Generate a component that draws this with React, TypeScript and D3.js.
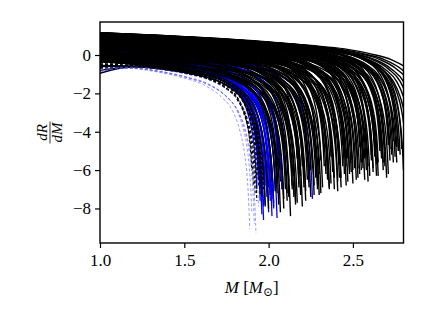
import React, { useEffect, useRef } from "react";
import * as d3 from "d3";

const WIDTH = 425;
const HEIGHT = 319;
const margin = { top: 22, right: 21.5, bottom: 76, left: 100 };

const xDomain = [1.0, 2.8];
const yDomain = [-9.8, 1.72];
const xTicks = [1.0, 1.5, 2.0, 2.5];
const yTicks = [0, -2, -4, -6, -8];

// shape of the plunge: mass before the last point (delta)
// and the share of the total drop reached there (share)
const profileDelta = [1.0, 0.75, 0.55, 0.4, 0.27, 0.17, 0.1, 0.06, 0.03, 0.015, 0.005, 0];
const profileShare = [0, 0.026, 0.05, 0.085, 0.13, 0.2, 0.29, 0.4, 0.55, 0.69, 0.86, 1];

// black solid curves: value at M=1, level before the plunge, last mass, last value
const blackStart = [
  -0.95, -0.55, -0.8, -0.35, -0.6, -0.25, -0.45, -0.15, -0.4, -0.2,
  -0.1, -0.3, 0.0, -0.2, 0.05, -0.15, 0.1, -0.05, 0.15, -0.25,
  0.2, -0.1, 0.3, 0.0, 0.35, -0.05, 0.25, 0.1, 0.4, 0.05,
  0.15, 0.45, 0.2, 0.35, 0.5, 0.25, 0.55, 0.3, 0.45, 0.6,
  0.4, 0.65, 0.5, 0.7, 0.35, 0.6, 0.75, 0.45, 0.8, 0.55,
  0.7, 0.85, 0.6, 0.9, 0.75, 0.95, 0.65, 0.85, 1.0, 0.8,
  0.9, 1.0, 0.8, 1.05, 0.85, 0.95, 1.1, 0.9, 1.0, 0.85,
  1.0, 0.9, 1.08, 0.95, 1.12, 1.0, 0.92, 1.1, 1.05, 0.98,
  1.1, 1.02, 1.12, 1.06, 1.14, 1.08, 1.12, 1.1, 1.15, 1.13,
  1.14, 1.15, 1.13, 1.15, 1.16, 1.15, 1.16, -0.05, 0.5, 0.75,
  -0.2, 0.15, 0.55, 0.85, -0.35, 0.05, 0.4, 0.7, 0.25, 0.6,
  0.0, 0.3, 0.65, 0.2, 0.5, 0.95, -0.3, -0.15, 0.35, 0.8,
  -0.05, 0.1, -0.2, 0.2, 0.05, 0.3, -0.1, 0.35, 0.15, 0.4,
  0.3, 0.5, 0.25, 0.55, 0.45, 0.7, 0.5, 0.75, 0.6, 0.8,
  0.7, 0.9, 0.75, 0.95, 0.85, 1.05, 0.9, 1.0, 1.08, 1.1,
  -0.35, -0.15, 0.0, 0.1, 0.2, 0.35, 0.4, 0.55, 0.65, 0.7,
];
const blackLevel = [
  -0.45, -0.42, -0.45, -0.3, -0.4, -0.22, -0.35, -0.15, -0.3, -0.18,
  -0.13, -0.33, -0.04, -0.23, 0.01, -0.19, 0.06, -0.09, 0.1, -0.28,
  0.14, -0.16, 0.24, -0.06, 0.29, -0.11, 0.19, 0.04, 0.33, -0.01,
  0.06, 0.36, 0.11, 0.26, 0.41, 0.16, 0.46, 0.21, 0.36, 0.51,
  0.27, 0.52, 0.37, 0.57, 0.22, 0.47, 0.62, 0.32, 0.67, 0.42,
  0.53, 0.68, 0.43, 0.73, 0.58, 0.78, 0.48, 0.68, 0.83, 0.63,
  0.7, 0.8, 0.6, 0.85, 0.65, 0.75, 0.9, 0.7, 0.8, 0.65,
  0.72, 0.62, 0.8, 0.66, 0.82, 0.7, 0.62, 0.8, 0.74, 0.68,
  0.74, 0.68, 0.78, 0.7, 0.8, 0.72, 0.76, 0.74, 0.8, 0.76,
  0.72, 0.7, 0.72, 0.7, 0.7, 0.68, 0.68, -0.14, 0.33, 0.5,
  -0.26, 0.02, 0.35, 0.5, -0.38, -0.05, 0.23, 0.42, 0.12, 0.4,
  -0.06, 0.13, 0.35, 0.07, 0.3, 0.55, -0.33, -0.21, 0.18, 0.5,
  -0.08, 0.06, -0.24, 0.15, 0.0, 0.24, -0.16, 0.27, 0.06, 0.31,
  0.2, 0.39, 0.12, 0.42, 0.3, 0.54, 0.33, 0.58, 0.42, 0.6,
  0.5, 0.68, 0.52, 0.7, 0.58, 0.75, 0.62, 0.7, 0.76, 0.74,
  -0.36, -0.2, -0.07, 0.01, 0.08, 0.2, 0.23, 0.36, 0.44, 0.47,
];
const blackEndM = [
  1.95, 1.96, 1.97, 1.98, 1.99, 2.0, 2.01, 2.02, 2.03, 2.04,
  2.05, 2.06, 2.06, 2.07, 2.08, 2.09, 2.1, 2.11, 2.12, 2.13,
  2.13, 2.14, 2.15, 2.16, 2.17, 2.18, 2.19, 2.2, 2.2, 2.21,
  2.22, 2.23, 2.24, 2.25, 2.26, 2.27, 2.28, 2.29, 2.3, 2.31,
  2.32, 2.33, 2.34, 2.35, 2.36, 2.37, 2.38, 2.39, 2.4, 2.41,
  2.42, 2.43, 2.44, 2.45, 2.46, 2.47, 2.48, 2.49, 2.5, 2.51,
  2.52, 2.53, 2.54, 2.55, 2.56, 2.57, 2.58, 2.59, 2.6, 2.61,
  2.62, 2.63, 2.64, 2.65, 2.66, 2.67, 2.68, 2.69, 2.7, 2.71,
  2.72, 2.73, 2.74, 2.75, 2.76, 2.77, 2.78, 2.79, 2.8, 2.82,
  2.84, 2.86, 2.88, 2.9, 2.93, 2.96, 3.0, 2.25, 2.45, 2.65,
  2.15, 2.35, 2.55, 2.72, 2.08, 2.28, 2.48, 2.68, 2.38, 2.58,
  2.18, 2.43, 2.63, 2.33, 2.53, 2.76, 2.11, 2.21, 2.46, 2.66,
  2.05, 2.07, 2.09, 2.12, 2.14, 2.16, 2.19, 2.22, 2.24, 2.27,
  2.29, 2.31, 2.34, 2.36, 2.39, 2.41, 2.44, 2.47, 2.49, 2.52,
  2.54, 2.57, 2.59, 2.62, 2.64, 2.67, 2.69, 2.71, 2.74, 2.77,
  2.03, 2.1, 2.17, 2.23, 2.3, 2.37, 2.42, 2.5, 2.56, 2.61,
];
const blackEndY = [
  -6.8, -7.4, -6.5, -7.9, -7.0, -8.0, -7.3, -6.6, -7.7, -7.1,
  -6.2, -7.8, -5.9, -8.2, -6.8, -7.5, -6.0, -7.2, -6.6, -8.4,
  -5.6, -7.0, -6.3, -7.6, -5.4, -6.9, -7.3, -5.8, -7.9, -6.4,
  -7.1, -5.2, -6.6, -7.4, -5.9, -6.8, -4.9, -7.0, -6.2, -5.5,
  -6.9, -5.8, -4.8, -6.5, -7.0, -5.3, -6.1, -7.0, -5.0, -6.6,
  -5.7, -6.9, -4.7, -6.2, -6.8, -5.4, -6.0, -4.6, -6.7, -5.9,
  -5.1, -6.4, -4.8, -6.0, -5.5, -6.5, -4.7, -5.8, -6.3, -5.2,
  -6.1, -4.9, -5.7, -6.3, -4.6, -5.4, -6.0, -5.0, -6.4, -4.7,
  -5.5, -5.2, -4.5, -5.3, -4.8, -5.0, -5.2, -4.9, -6.0, -6.0,
  -6.5, -6.5, -6.5, -6.5, -6.5, -6.5, -6.5, -6.0, -5.2, -5.6,
  -7.4, -6.0, -5.6, -4.9, -7.0, -6.4, -6.2, -5.6, -5.5, -6.0,
  -6.7, -6.4, -5.3, -5.0, -5.9, -5.6, -7.6, -6.9, -5.8, -5.0,
  -7.2, -6.6, -8.0, -7.4, -6.8, -7.8, -6.3, -7.6, -6.9, -7.3,
  -6.7, -7.2, -6.2, -6.9, -6.4, -7.1, -5.8, -6.6, -6.1, -6.5,
  -6.2, -5.4, -6.6, -5.9, -6.3, -5.1, -5.8, -6.2, -5.6, -5.0,
  -7.9, -7.0, -7.7, -6.5, -7.3, -6.7, -6.4, -6.0, -5.9, -5.5,
];

// blue solid curves
const blueStart = [-0.15, -0.12, -0.1, -0.08, -0.18, -0.05, -0.14, -0.02, -0.1, 0.0, -0.16, 0.02, -0.06, 0.0, 0.03, -0.04, 0.05, 0.02, 0.06, 0.15, -0.12, -0.07];
const blueLevel = [-0.08, -0.06, -0.04, -0.02, -0.1, 0.0, -0.08, 0.03, -0.04, 0.05, -0.1, 0.07, 0.0, 0.05, 0.08, 0.02, 0.1, 0.07, 0.1, 0.2, -0.06, -0.02];
const blueEndM = [1.93, 1.94, 1.95, 1.96, 1.96, 1.97, 1.98, 1.98, 1.99, 2.0, 2.0, 2.01, 2.02, 2.03, 2.04, 2.05, 2.06, 2.08, 2.1, 2.26, 1.97, 2.02];
const blueEndY = [-7.0, -6.5, -7.6, -7.2, -8.3, -8.6, -6.8, -7.8, -7.4, -8.2, -6.9, -7.6, -7.5, -8.0, -7.1, -8.5, -6.4, -7.0, -6.0, -7.5, -7.9, -8.4];

// black dashed curves
const dashStart = [-0.55, -0.6, -0.5, -0.65, -0.45, -0.7, -0.5, -0.58, -0.4, -0.55];
const dashLevel = [-0.4, -0.42, -0.38, -0.45, -0.36, -0.46, -0.38, -0.4, -0.33, -0.4];
const dashEndM = [1.9, 1.91, 1.92, 1.93, 1.93, 1.94, 1.95, 1.95, 1.96, 1.97];
const dashEndY = [-6.0, -6.8, -7.2, -6.4, -7.6, -6.9, -7.3, -6.2, -6.6, -7.0];

// light blue dashed curves
const lightStart = [-0.9, -0.75, -0.85, -0.8, -0.7];
const lightLevel = [-0.45, -0.45, -0.47, -0.45, -0.42];
const lightEndM = [1.888, 1.9, 1.915, 1.925, 1.94];
const lightEndY = [-9.06, -8.2, -8.8, -9.3, -7.9];

type Pt = [number, number];

function buildCurves(start: number[], level: number[], endM: number[], endY: number[]) {
  return start.map((s, i) => {
    const pts: Pt[] = [[1.0, s]];
    profileDelta.forEach((dm, j) => {
      const m = endM[i] - dm;
      if (m > 1.0) pts.push([m, level[i] + profileShare[j] * (endY[i] - level[i])]);
    });
    return pts;
  });
}

export default function App() {
  const ref = useRef<SVGSVGElement>(null);

  useEffect(() => {
    const svg = d3.select(ref.current);
    svg.selectAll("*").remove();
    const w = WIDTH - margin.left - margin.right;
    const h = HEIGHT - margin.top - margin.bottom;

    const x = d3.scaleLinear().domain(xDomain).range([0, w]);
    const y = d3.scaleLinear().domain(yDomain).range([h, 0]);

    const g = svg.append("g").attr("transform", `translate(${margin.left},${margin.top})`);

    g.append("clipPath").attr("id", "plot-clip")
      .append("rect").attr("width", w).attr("height", h);

    const line = d3.line<Pt>()
      .x(d => x(d[0]))
      .y(d => y(d[1]))
      .curve(d3.curveMonotoneX);

    const plot = g.append("g").attr("clip-path", "url(#plot-clip)");

    const black = buildCurves(blackStart, blackLevel, blackEndM, blackEndY);

    // the blue curves sit between two halves of the black ones
    const groups = [
      { data: black.filter((_, i) => i % 2 === 0), color: "#000", width: 1.4, dash: null, opacity: 1 },
      { data: buildCurves(blueStart, blueLevel, blueEndM, blueEndY), color: "#0000ff", width: 1.3, dash: null, opacity: 1 },
      { data: black.filter((_, i) => i % 2 === 1), color: "#000", width: 1.4, dash: null, opacity: 1 },
      { data: buildCurves(dashStart, dashLevel, dashEndM, dashEndY), color: "#000", width: 1.1, dash: "3,2", opacity: 1 },
      { data: buildCurves(lightStart, lightLevel, lightEndM, lightEndY), color: "#4444ff", width: 0.9, dash: "3,2", opacity: 0.6 },
    ];

    groups.forEach(grp => {
      plot.append("g").selectAll("path")
        .data(grp.data)
        .enter()
        .append("path")
        .attr("d", d => line(d))
        .attr("fill", "none")
        .attr("stroke", grp.color)
        .attr("stroke-width", grp.width)
        .attr("stroke-opacity", grp.opacity)
        .attr("stroke-dasharray", grp.dash);
    });

    const font = "'Liberation Serif', 'Times New Roman', 'DejaVu Serif', serif";

    const xAxis = d3.axisBottom(x).tickValues(xTicks).tickSize(5).tickPadding(6)
      .tickFormat(d => d3.format(".1f")(d as number));
    const gx = g.append("g").attr("transform", `translate(0,${h})`).call(xAxis);
    const yAxis = d3.axisLeft(y).tickValues(yTicks).tickSize(5).tickPadding(4)
      .tickFormat(d => d3.format("d")(d as number).replace("-", "\u2212"));
    const gy = g.append("g").call(yAxis);

    [gx, gy].forEach(ax => {
      ax.select(".domain").remove();
      ax.attr("font-family", font).attr("font-size", 17);
      ax.selectAll("line").attr("stroke", "#000").attr("stroke-width", 1.2);
      ax.selectAll("text").attr("fill", "#000")
        .attr("font-family", font).attr("font-size", 17);
    });

    g.append("rect")
      .attr("width", w).attr("height", h)
      .attr("fill", "none").attr("stroke", "#000").attr("stroke-width", 1.4);

    // x label
    const xl = svg.append("text")
      .attr("x", margin.left + w / 2).attr("y", 293)
      .attr("text-anchor", "middle")
      .attr("font-family", font).attr("font-size", 17);
    xl.append("tspan").attr("font-style", "italic").text("M");
    xl.append("tspan").text(" [");
    xl.append("tspan").attr("font-style", "italic").text("M");
    xl.append("tspan").attr("font-size", 12).attr("dy", 3).text("\u2299");
    xl.append("tspan").attr("dy", -3).text("]");

    // y label as a fraction
    const yl = svg.append("g").attr("transform", `translate(50,${margin.top + h / 2}) rotate(-90)`)
      .attr("font-family", font).attr("font-size", 15).attr("font-style", "italic");
    yl.append("text").attr("x", 0).attr("y", -3).attr("text-anchor", "middle").text("dR");
    yl.append("line").attr("x1", -11).attr("x2", 11).attr("y1", 0).attr("y2", 0)
      .attr("stroke", "#000").attr("stroke-width", 0.8);
    yl.append("text").attr("x", 0).attr("y", 12).attr("text-anchor", "middle").text("dM");
  }, []);

  return (
    <svg ref={ref} width={WIDTH} height={HEIGHT}
      style={{ position: "absolute", left: 0, top: 0, background: "#fff" }} />
  );
}
